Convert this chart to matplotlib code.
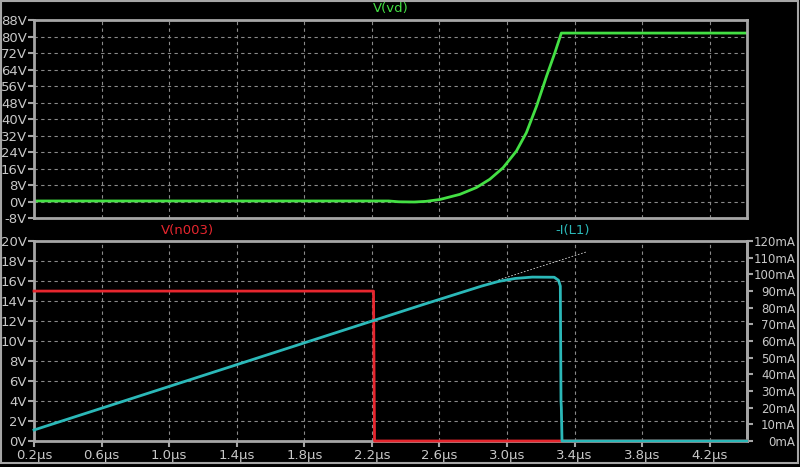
import matplotlib
matplotlib.use("Agg")
import matplotlib.pyplot as plt
from matplotlib.ticker import FuncFormatter, MultipleLocator
from matplotlib.patches import Rectangle

# V(vd) trace, time in us
t_vd = [0.2, 2.30, 2.36, 2.45, 2.52, 2.602, 2.721, 2.819, 2.898, 2.977, 3.056, 3.115,
        3.175, 3.234, 3.283, 3.322, 4.42]
v_vd = [0.3, 0.3, -0.1, -0.2, 0.1, 1.0, 3.5, 6.8, 10.8, 16.4, 24.5, 33.4,
        46.2, 60.7, 72.0, 81.7, 81.7]

# V(n003) trace
t_n003 = [0.2, 2.210, 2.216, 4.42]
v_n003 = [15.0, 15.0, 0.0, 0.0]

# -I(L1) trace in mA
t_il1 = [0.2, 1.4, 2.5, 2.85, 2.95, 3.05, 3.15, 3.28, 3.305, 3.316, 3.320, 3.322, 3.326, 4.42]
i_il1 = [6.6, 45.8, 81.8, 93.0, 95.8, 97.6, 98.4, 98.3, 96.5, 93.0, 24.0, 20.0, 0.0, 0.0]

# thin dashed extension of the linear ramp
t_ext = [2.95, 3.47]
i_ext = [96.7, 113.5]

x_ticks = [0.2, 0.6, 1.0, 1.4, 1.8, 2.2, 2.6, 3.0, 3.4, 3.8, 4.2]

BG = "black"
FRAME = "#a6a6a6"
TXT = "#c8c8c8"
GRID = "#8a8a8a"
GREEN = "#44e044"
RED = "#e6262e"
CYAN = "#2bb8b8"

plt.rcParams["font.family"] = "DejaVu Sans"

fig = plt.figure(figsize=(8, 4.67), dpi=100, facecolor=BG)
fig.patches.append(Rectangle((0.001, 0.008), 0.997, 0.99, transform=fig.transFigure,
                             fill=False, edgecolor=FRAME, lw=1.5))

ax1 = fig.add_axes([0.0425, 0.533, 0.891, 0.424])
ax2 = fig.add_axes([0.0425, 0.0557, 0.891, 0.428])
ax3 = ax2.twinx()


def style(ax):
    ax.set_facecolor(BG)
    for s in ax.spines.values():
        s.set_color(FRAME)
        s.set_linewidth(2)
    ax.tick_params(colors=FRAME, labelcolor=TXT, width=1.5, length=4, labelsize=9.5)


for ax in (ax1, ax2):
    style(ax)
    ax.set_xlim(0.2, 4.42)
    ax.set_xticks(x_ticks)
    ax.grid(True, color=GRID, linestyle=(0, (3, 3)), linewidth=0.8)
style(ax3)
ax3.spines["bottom"].set_visible(False)
ax3.spines["top"].set_visible(False)
ax3.spines["left"].set_visible(False)

# top panel
ax1.plot(t_vd, v_vd, color=GREEN, lw=2)
ax1.set_ylim(-8, 88)
ax1.yaxis.set_major_locator(MultipleLocator(8))
ax1.yaxis.set_major_formatter(FuncFormatter(lambda v, p: f"{v:.0f}V"))
ax1.tick_params(axis="x", bottom=False, labelbottom=False)
ax1.tick_params(axis="y", pad=1)
ax1.text(0.5, 1.025, "V(vd)", transform=ax1.transAxes, color=GREEN,
         ha="center", va="bottom", fontsize=9.5)

# bottom panel
ax2.set_ylim(0, 20)
ax2.yaxis.set_major_locator(MultipleLocator(2))
ax2.yaxis.set_major_formatter(FuncFormatter(lambda v, p: f"{v:.0f}V"))
ax2.xaxis.set_major_formatter(FuncFormatter(lambda v, p: f"{v:.1f}\u00b5s"))
ax2.tick_params(axis="y", pad=1)
ax2.tick_params(axis="x", pad=2)

# red trace drawn on the mA axes (scaled 15V -> 90mA) so it sits above the frame
v_to_ma = 120 / 20
ax3.plot(t_n003, [v * v_to_ma for v in v_n003], color=RED, lw=2, zorder=3, clip_on=False)
ax3.plot(t_ext, i_ext, color="#d0d0d0", lw=0.6, linestyle=(0, (2, 2)))
ax3.plot(t_il1, i_il1, color=CYAN, lw=2, zorder=4, clip_on=False)
ax3.set_ylim(0, 120)
ax3.set_xlim(0.2, 4.42)
ax3.yaxis.set_major_locator(MultipleLocator(10))
ax3.yaxis.set_major_formatter(FuncFormatter(lambda v, p: f"{v:.0f}mA"))
ax3.tick_params(axis="y", pad=31, labelsize=8.5)
for lab in ax3.get_yticklabels():
    lab.set_horizontalalignment("right")

ax2.text(0.215, 1.02, "V(n003)", transform=ax2.transAxes, color=RED,
         ha="center", va="bottom", fontsize=9.5)
ax2.text(0.755, 1.02, "-I(L1)", transform=ax2.transAxes, color=CYAN,
         ha="center", va="bottom", fontsize=9.5)

fig.savefig("out.png", dpi=100, facecolor=BG)
